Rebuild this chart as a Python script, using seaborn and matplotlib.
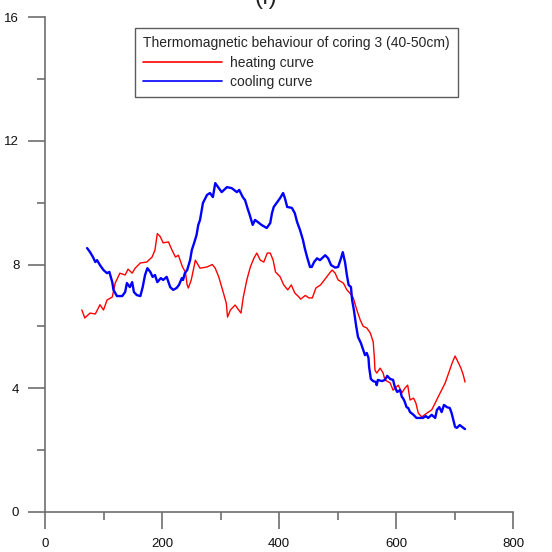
import matplotlib
matplotlib.use("Agg")
import matplotlib.pyplot as plt
from matplotlib.ticker import MultipleLocator
import seaborn as sns
import pandas as pd

# ---- data ----
heat_x = [63, 68, 77, 86, 94, 100, 106, 115, 120, 128, 137, 142, 149, 154, 163, 174, 183, 188, 192, 197,
          202, 211, 217, 223, 228, 235, 240, 243, 245, 250, 257, 265, 277, 286, 291, 297, 301, 305, 310, 312,
          317, 325, 331, 335, 339, 345, 351, 357, 362, 368, 374, 380, 385, 390, 394, 402, 408, 415, 421, 427,
          434, 437, 445, 451, 457, 463, 471, 480, 488, 491, 496, 501, 510, 516, 521, 527, 533, 539, 544, 550,
          556, 561, 563, 564, 567, 573, 578, 581, 590, 595, 598, 604, 610, 615, 620, 624, 630, 634, 638, 644,
          653, 661, 667, 672, 678, 684, 690, 696, 701, 706, 711, 715, 718]
heat_y = [6.53, 6.27, 6.43, 6.40, 6.70, 6.53, 6.85, 6.95, 7.40, 7.72, 7.66, 7.85, 7.72, 7.88, 8.05, 8.08, 8.24, 8.47, 9.00, 8.90,
          8.70, 8.73, 8.47, 8.24, 8.30, 7.92, 7.76, 7.34, 7.24, 7.50, 8.14, 7.88, 7.92, 8.00, 7.88, 7.60, 7.34, 7.08, 6.74, 6.30,
          6.53, 6.69, 6.53, 6.43, 6.95, 7.50, 7.92, 8.20, 8.37, 8.14, 8.08, 8.37, 8.37, 8.14, 7.76, 7.60, 7.34, 7.18, 7.34, 7.08,
          6.95, 6.88, 7.00, 6.92, 6.92, 7.24, 7.34, 7.56, 7.76, 7.82, 7.72, 7.50, 7.40, 7.18, 7.08, 6.92, 6.53, 6.20, 6.00, 5.95,
          5.79, 5.50, 5.00, 4.59, 4.49, 4.65, 4.49, 4.27, 4.17, 3.94, 4.00, 4.10, 3.85, 4.00, 4.10, 3.62, 3.68, 3.52, 3.20, 3.07,
          3.20, 3.30, 3.52, 3.72, 3.94, 4.17, 4.49, 4.82, 5.04, 4.85, 4.65, 4.43, 4.20]

cool_x = [72, 77, 82, 86, 89, 94, 100, 106, 110, 115, 117, 123, 132, 137, 140, 145, 149, 152, 157, 163,
          167, 171, 175, 180, 184, 188, 192, 198, 202, 208, 214, 219, 225, 229, 234, 236, 239, 243, 248, 251,
          255, 259, 262, 265, 270, 277, 282, 287, 291, 296, 302, 311, 319, 328, 332, 338, 342, 346, 350, 355,
          359, 364, 370, 379, 385, 388, 391, 396, 402, 407, 410, 414, 422, 427, 431, 436, 441, 444, 448, 453,
          456, 460, 465, 470, 479, 484, 489, 496, 501, 506, 509, 513, 516, 519, 523, 525, 528, 532, 535, 540,
          544, 547, 550, 553, 554, 557, 561, 566, 567, 569, 576, 581, 585, 590, 595, 598, 602, 607, 610, 612,
          615, 618, 621, 624, 630, 635, 641, 646, 651, 655, 661, 667, 670, 674, 678, 682, 687, 692, 695, 698,
          701, 704, 709, 715, 718]
cool_y = [8.53, 8.40, 8.24, 8.08, 8.14, 7.98, 7.82, 7.72, 7.76, 7.43, 7.18, 6.98, 6.98, 7.11, 7.40, 7.27, 7.43, 7.11, 7.01, 6.98,
          7.27, 7.66, 7.88, 7.76, 7.60, 7.66, 7.43, 7.56, 7.50, 7.60, 7.27, 7.18, 7.24, 7.34, 7.56, 7.50, 7.72, 7.82, 8.14, 8.47,
          8.70, 8.95, 9.28, 9.44, 9.99, 10.25, 10.31, 10.18, 10.63, 10.50, 10.34, 10.50, 10.47, 10.34, 10.41, 10.18, 10.08, 9.83, 9.60, 9.28,
          9.44, 9.37, 9.28, 9.18, 9.34, 9.66, 9.86, 9.99, 10.15, 10.31, 10.15, 9.86, 9.83, 9.66, 9.37, 9.11, 8.79, 8.53, 8.24, 7.92,
          7.92, 8.08, 8.20, 8.14, 8.30, 8.20, 7.98, 7.90, 7.92, 8.20, 8.40, 8.06, 7.66, 7.34, 7.27, 6.85, 6.53, 6.00, 5.66, 5.46,
          5.24, 5.07, 5.14, 4.98, 4.69, 4.30, 4.23, 4.20, 4.10, 4.27, 4.23, 4.27, 4.40, 4.30, 4.27, 4.04, 3.88, 3.94, 3.72, 3.68,
          3.56, 3.39, 3.36, 3.23, 3.14, 3.04, 3.04, 3.04, 3.10, 3.04, 3.14, 3.04, 3.30, 3.39, 3.23, 3.46, 3.39, 3.36, 3.20, 2.97,
          2.75, 2.72, 2.81, 2.72, 2.68]

series_labels = ["heating curve", "cooling curve"]
legend_title = "Thermomagnetic behaviour of coring 3 (40-50cm)"
panel_title = "(f)"
x_ticks = [0, 200, 400, 600, 800]
y_ticks = [0, 4, 8, 12, 16]

# ---- style ----
sns.set_style("white")
plt.rcParams["font.family"] = ["Liberation Sans", "DejaVu Sans"]

fig = plt.figure(figsize=(5.52, 5.52), dpi=100)
ax = fig.add_axes([45 / 552, 40 / 552, 468 / 552, 495 / 552])

heat = pd.DataFrame({"x": heat_x, "y": heat_y})
cool = pd.DataFrame({"x": cool_x, "y": cool_y})

sns.lineplot(data=heat, x="x", y="y", ax=ax, color="#ff0000", lw=1.0,
             sort=False, estimator=None, label=series_labels[0])
sns.lineplot(data=cool, x="x", y="y", ax=ax, color="#0000ff", lw=1.7,
             sort=False, estimator=None, label=series_labels[1])

ax.set_xlim(0, 800)
ax.set_ylim(0, 16)
ax.set_xticks(x_ticks)
ax.set_yticks(y_ticks)
ax.xaxis.set_minor_locator(MultipleLocator(100))
ax.yaxis.set_minor_locator(MultipleLocator(2))
ax.set_xlabel("")
ax.set_ylabel("")

spine_c = "#6e6e6e"
for s in ["top", "right"]:
    ax.spines[s].set_visible(False)
for s in ["left", "bottom"]:
    ax.spines[s].set_color(spine_c)
    ax.spines[s].set_linewidth(1.2)

ax.tick_params(which="major", direction="out", length=12.5, width=1.2, color=spine_c,
               labelsize=9.5, labelcolor="#111111", pad=6)
ax.tick_params(which="minor", direction="out", length=6, width=1.2, color=spine_c)
ax.tick_params(axis="both", which="both", bottom=True, left=True)

leg = ax.legend(title=legend_title, loc="upper left", bbox_to_anchor=(0.192, 0.978),
                fontsize=10, title_fontsize=10, frameon=True, fancybox=False,
                edgecolor="#333333", handlelength=5.7, handletextpad=0.58,
                labelspacing=0.38, borderpad=0.6, alignment="left",
                borderaxespad=0)
leg.get_frame().set_linewidth(1.0)
for line in leg.get_lines():
    line.set_linewidth(1.2)

fig.text(0.482, 1 - 9 / 552, panel_title, ha="center", va="bottom", fontsize=17, color="#222222")

fig.savefig("out.png", dpi=100)
